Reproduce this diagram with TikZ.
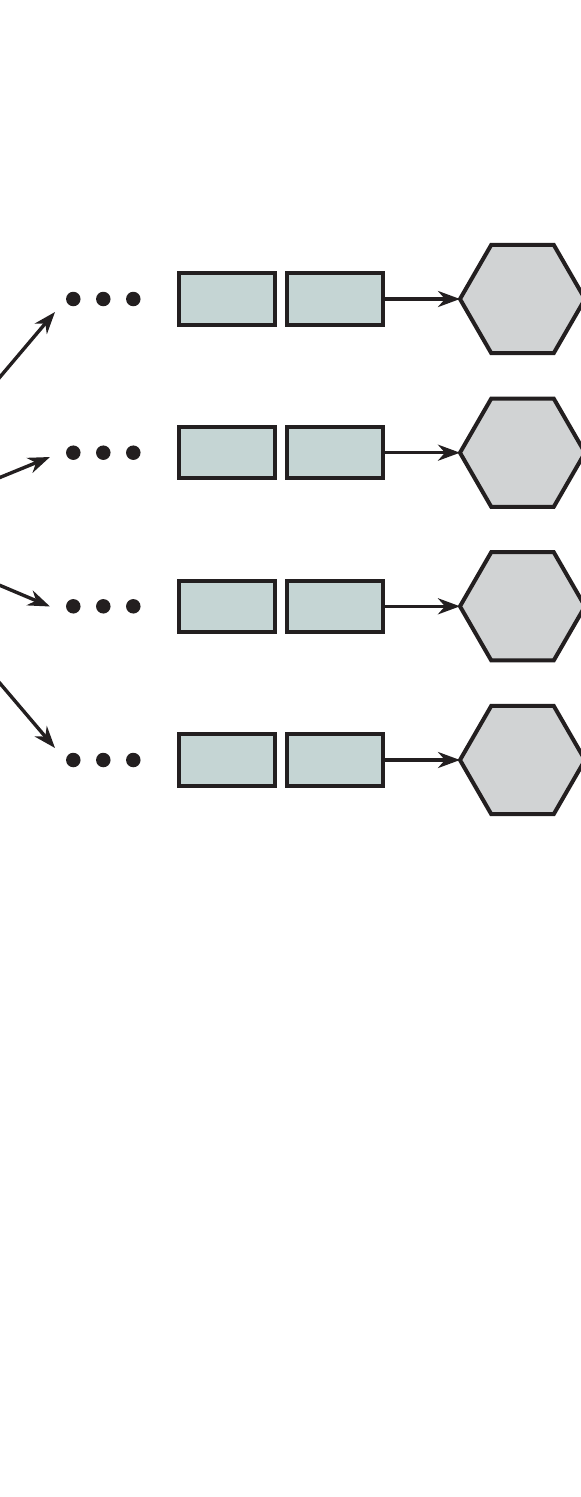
\documentclass[tikz,border=0pt]{standalone}
\usetikzlibrary{shapes.geometric,arrows.meta}
\definecolor{ink}{HTML}{231F20}
\definecolor{boxfill}{HTML}{C5D5D4}
\definecolor{hexfill}{HTML}{D1D3D4}
\tikzset{
  cell/.style={draw=ink, fill=boxfill, line width=4pt, minimum width=96pt, minimum height=51.5pt, inner sep=0pt, outer sep=0pt},
  hexa/.style={regular polygon, regular polygon sides=6, draw=ink, fill=hexfill, line width=4pt, minimum size=125pt, inner sep=0pt, outer sep=0pt},
  dotc/.style={circle, fill=ink, minimum size=14.5pt, inner sep=0pt},
  arr/.style={draw=ink, line width=3.4pt, -{Stealth[length=22pt,width=16pt,inset=7pt]}},
}
\begin{document}
\begin{tikzpicture}[x=1pt,y=-1pt]
\useasboundingbox (0,0) rectangle (581,1497);
\clip (0,0) rectangle (581,1497);
\coordinate (src) at (-130,530.5);
\foreach \i/\y/\tx/\ty in {1/299/55/312, 2/452.7/50/457, 3/606.3/50/606.5, 4/760/55/748} {
  \node[dotc] (d\i a) at (73.3,\y) {};
  \node[dotc] (d\i b) at (103.3,\y) {};
  \node[dotc] (d\i c) at (133.3,\y) {};
  \node[cell] (b\i a) at (226.5,\y) {};
  \node[cell] (b\i b) at (335,\y) {};
  \node[hexa] (h\i) at (522.5,\y) {};
  \coordinate (t\i) at (\tx,\ty);
  \draw[arr] (b\i b.east) -- (h\i.west);
  \draw[arr] (src) -- (t\i);
}
\end{tikzpicture}
\end{document}
